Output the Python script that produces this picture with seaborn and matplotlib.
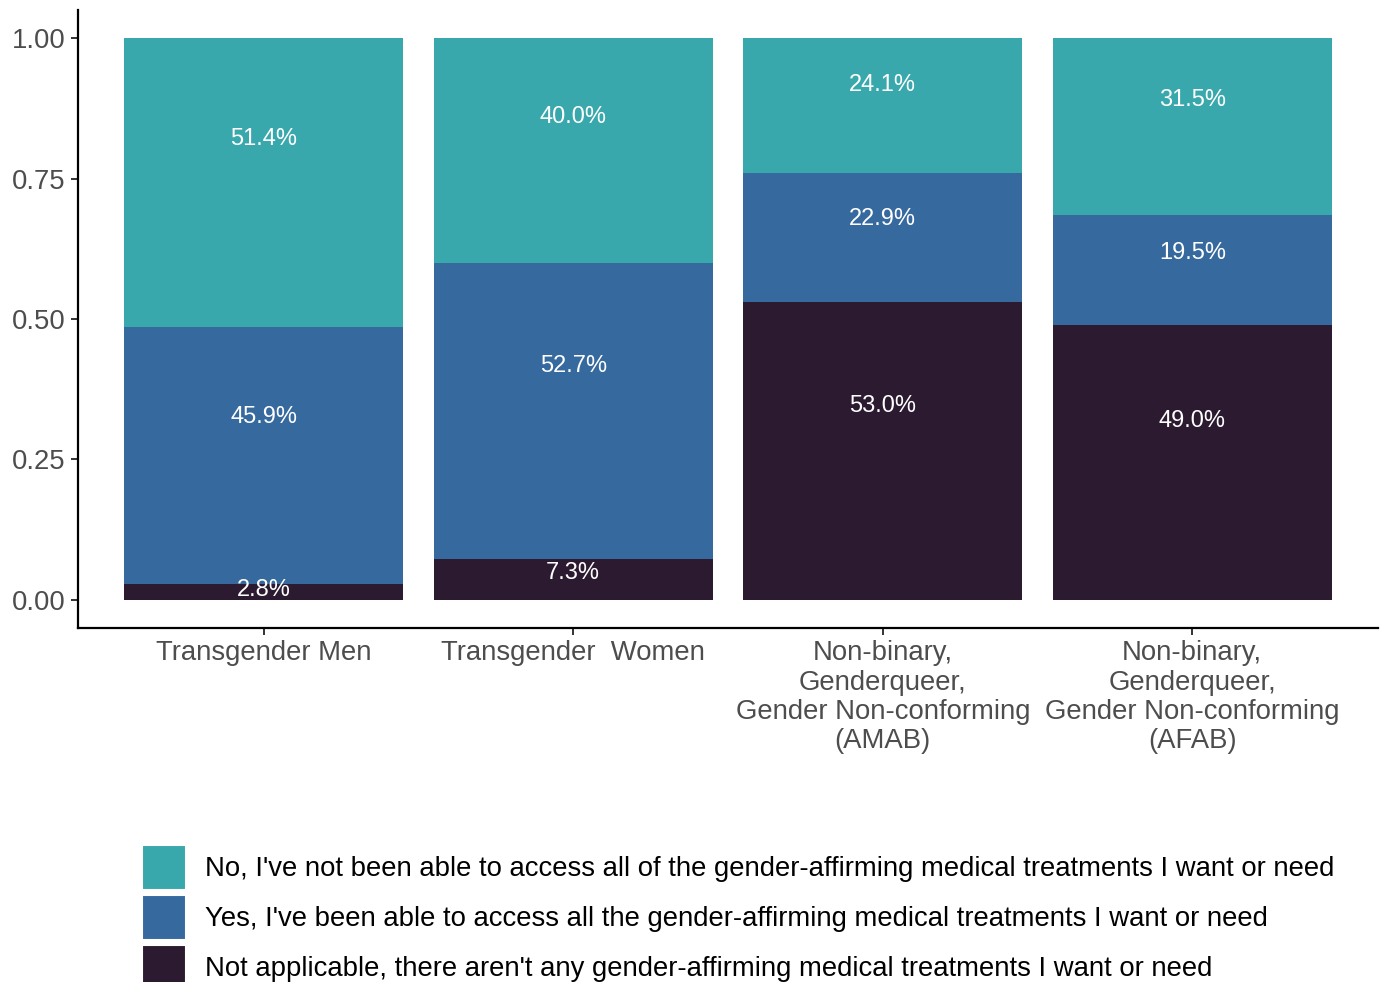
import numpy as np
import pandas as pd
import matplotlib
matplotlib.use('Agg')
import matplotlib.pyplot as plt
import seaborn as sns
from matplotlib.patches import Patch

# data (percent of each group)
groups = [
    'Transgender Men',
    'Transgender  Women',
    'Non-binary,\nGenderqueer,\nGender Non-conforming\n(AMAB)',
    'Non-binary,\nGenderqueer,\nGender Non-conforming\n(AFAB)',
]
responses = [
    "No, I've not been able to access all of the gender-affirming medical treatments I want or need",
    "Yes, I've been able to access all the gender-affirming medical treatments I want or need",
    "Not applicable, there aren't any gender-affirming medical treatments I want or need",
]
pct_no = [51.4, 40.0, 24.1, 31.5]
pct_yes = [45.9, 52.7, 22.9, 19.5]
pct_na = [2.8, 7.3, 53.0, 49.0]

colors = ['#38A8AC', '#36699E', '#2C1B30']

sns.set_theme(style='white')
plt.rcParams['font.family'] = ['Liberation Sans', 'DejaVu Sans']

df = pd.DataFrame({'group': groups, 'no': pct_no, 'yes': pct_yes, 'na': pct_na})
total = df[['no', 'yes', 'na']].sum(axis=1)
# fill position: bottom segment is "na", then "yes", then "no" on top
df['f_na'] = df['na'] / total
df['f_yes'] = df['yes'] / total
df['f_no'] = df['no'] / total
df['top_na'] = df['f_na']
df['top_yes'] = df['f_na'] + df['f_yes']
df['top_no'] = df['top_yes'] + df['f_no']

fig = plt.figure(figsize=(13.88, 9.82), dpi=100)
ax = fig.add_axes([0.0562, 0.3605, 0.9366, 0.6293])

# stacked bars by drawing cumulative heights, tallest first
for col, c in zip(['top_no', 'top_yes', 'top_na'], colors):
    sns.barplot(data=df, x='group', y=col, color=c, saturation=1,
                width=0.9, linewidth=0, ax=ax, order=groups)

# labels at 65% of the way up each segment
for i, r in df.iterrows():
    segs = [(r['f_na'], 0.0, r['na']),
            (r['f_yes'], r['top_na'], r['yes']),
            (r['f_no'], r['top_yes'], r['no'])]
    for frac, bottom, raw in segs:
        ax.text(i, bottom + 0.65 * frac, f'{raw:.1f}%', ha='center', va='center',
                color='white', fontsize=17)

ax.set_xlim(-0.6, 3.6)
ax.set_ylim(-0.05, 1.05)
ax.set_yticks([0, 0.25, 0.5, 0.75, 1.0])
ax.set_yticklabels(['0.00', '0.25', '0.50', '0.75', '1.00'])
ax.set_xlabel('')
ax.set_ylabel('')
sns.despine(ax=ax)
for s in ['left', 'bottom']:
    ax.spines[s].set_linewidth(1.6)
    ax.spines[s].set_color('black')
ax.tick_params(axis='both', which='major', direction='out', length=5, width=1.4,
               color='#333333', labelcolor='#4D4D4D', labelsize=19.8,
               left=True, bottom=True)
ax.tick_params(axis='x', pad=4)
ax.tick_params(axis='y', pad=4)
for t in ax.get_xticklabels():
    t.set_linespacing(1.16)
    t.set_ha('center')

handles = [Patch(facecolor=c, edgecolor='white', linewidth=1.5) for c in colors]
fig.legend(handles, responses, loc='upper left',
           bbox_to_anchor=(142 / 1388, 1 - 845 / 982),
           frameon=False, borderpad=0, borderaxespad=0,
           handlelength=1.6, handleheight=2.14, labelspacing=0.18,
           handletextpad=0.69, labelcolor='black',
           prop={'family': 'Liberation Sans', 'size': 19.8})

fig.savefig('out.png', dpi=100)
